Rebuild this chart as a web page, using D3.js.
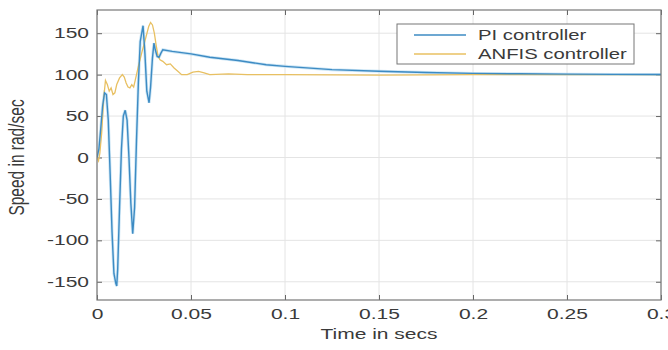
<!DOCTYPE html>
<html>
<head>
<meta charset="utf-8">
<script src="https://cdn.jsdelivr.net/npm/d3@7"></script>
<style>
  body { margin: 0; background: #fff; }
  svg text { font-family: "Liberation Sans", Arial, sans-serif; fill: #3a3a3a; }
</style>
</head>
<body>
<svg id="chart" width="668" height="350"></svg>
<script>
// values
var xTicks = [0, 0.05, 0.1, 0.15, 0.2, 0.25, 0.3]
var yTicks = [-150, -100, -50, 0, 50, 100, 150]

var piTime = [0, 0.001, 0.002, 0.003, 0.004, 0.005, 0.006, 0.007, 0.008, 0.009, 0.010, 0.0105, 0.011, 0.012, 0.013, 0.014,
	0.015, 0.016, 0.017, 0.018, 0.019, 0.020, 0.021, 0.022, 0.023, 0.0245, 0.0255, 0.0265, 0.0277, 0.0285, 0.0295, 0.0303,
	0.031, 0.032, 0.033, 0.034, 0.035, 0.04, 0.05, 0.06, 0.075, 0.09, 0.1, 0.125, 0.15, 0.175, 0.2, 0.225, 0.25, 0.275, 0.3]
var piSpeed = [0, 10, 35, 62, 78, 76, 45, -20, -90, -140, -152, -155, -135, -60, 10, 50,
	57, 45, 0, -55, -92, -60, 20, 90, 140, 159, 125, 80, 66, 85, 120, 138,
	130, 122, 121, 126, 130, 128, 125, 121, 117, 112, 110, 106, 104, 102.5, 101.5, 101, 100.6, 100.3, 100.2]

var anfisTime = [0, 0.0008, 0.0015, 0.0025, 0.0035, 0.0045, 0.0055, 0.0065, 0.0075, 0.0085, 0.0095, 0.0105, 0.012, 0.0135,
	0.0145, 0.0155, 0.0165, 0.0175, 0.0185, 0.0195, 0.0205, 0.022, 0.024, 0.026, 0.0275, 0.0285, 0.0295, 0.0305, 0.0315,
	0.0325, 0.0335, 0.035, 0.037, 0.039, 0.041, 0.043, 0.045, 0.048, 0.051, 0.054, 0.057, 0.06, 0.07, 0.08, 0.1, 0.15, 0.2, 0.25, 0.3]
var anfisSpeed = [0, -4, 5, 30, 70, 93, 88, 80, 84, 76, 78, 88, 96, 100,
	97, 90, 85, 84, 88, 85, 95, 110, 128, 145, 158, 163, 160, 150, 135,
	122, 118, 116, 112, 113, 108, 104, 100, 100, 103, 104, 102, 100, 101, 100, 100, 99.5, 100, 100, 100]

var seriesNames = ["PI controller", "ANFIS controller"]
var seriesColors = ["#3d8bc3", "#e8c062"]

var SX = 1.45 // the picture's text is stretched sideways

var svg = d3.select("#chart"),
	margin = { top: 10, right: 7, bottom: 50, left: 97 },
	width = 668 - margin.left - margin.right,
	height = 350 - margin.top - margin.bottom;

var x = d3.scaleLinear().domain([0, 0.3]).range([0, width]);
var y = d3.scaleLinear().domain([-172, 178]).range([height, 0]);

var g = svg.append("g")
	.attr("transform", "translate(" + margin.left + "," + margin.top + ")");

g.append("defs").append("clipPath").attr("id", "clip")
	.append("rect").attr("width", width).attr("height", height);

// grid
g.selectAll(".gx").data(xTicks).enter().append("line")
	.attr("x1", function (d) { return x(d) }).attr("x2", function (d) { return x(d) })
	.attr("y1", 0).attr("y2", height)
	.style("stroke", "#e4e4e4").style("stroke-width", 1);
g.selectAll(".gy").data(yTicks).enter().append("line")
	.attr("x1", 0).attr("x2", width)
	.attr("y1", function (d) { return y(d) }).attr("y2", function (d) { return y(d) })
	.style("stroke", "#e4e4e4").style("stroke-width", 1);

// axes
var xa = g.append("g").attr("class", "x axis")
	.attr("transform", "translate(0," + height + ")")
	.call(d3.axisBottom(x).tickValues(xTicks).tickFormat(function (d) { return String(d) })
		.tickSizeInner(-5).tickSizeOuter(0).tickPadding(9));
var ya = g.append("g").attr("class", "y axis")
	.call(d3.axisLeft(y).tickValues(yTicks).tickFormat(function (d) { return String(d) })
		.tickSizeInner(-5).tickSizeOuter(0).tickPadding(8));
g.append("g").call(d3.axisTop(x).tickValues(xTicks).tickFormat("").tickSizeInner(-5).tickSizeOuter(0));
g.append("g").attr("transform", "translate(" + width + ",0)")
	.call(d3.axisRight(y).tickValues(yTicks).tickFormat("").tickSizeInner(-5).tickSizeOuter(0));

g.selectAll(".domain").remove();
g.selectAll(".tick line").style("stroke", "#666");
g.selectAll(".tick text").style("font-size", "14.5px").style("fill", "#3a3a3a")
	.attr("transform", "scale(" + SX + ",1)");
ya.selectAll(".tick text").attr("x", -8 / SX);

// lines
var line = d3.line()
	.x(function (d) { return x(d[0]) })
	.y(function (d) { return y(d[1]) });

var piData = d3.zip(piTime, piSpeed);
var anfisData = d3.zip(anfisTime, anfisSpeed);

var lines = g.append("g").attr("clip-path", "url(#clip)");
lines.append("path").datum(piData)
	.attr("d", line)
	.style("fill", "none").style("stroke", "#a9d3ee").style("stroke-width", 3).style("opacity", 0.6);
lines.append("path").datum(anfisData)
	.attr("d", line)
	.style("fill", "none").style("stroke", seriesColors[1]).style("stroke-width", 1.3);
lines.append("path").datum(piData)
	.attr("d", line)
	.style("fill", "none").style("stroke", seriesColors[0]).style("stroke-width", 1.4);

// frame
g.append("rect").attr("width", width).attr("height", height)
	.style("fill", "none").style("stroke", "#777").style("stroke-width", 1.2);

// axis titles
svg.append("text")
	.text("Time in secs")
	.attr("text-anchor", "middle")
	.attr("transform", "translate(" + (margin.left + width / 2) + ",339) scale(" + SX + ",1)")
	.style("font-size", "14.5px");

svg.append("text")
	.text("Speed in rad/sec")
	.attr("text-anchor", "middle")
	.attr("transform", "translate(24," + (margin.top + y(0)) + ") rotate(-90) scale(1," + SX + ")")
	.style("font-size", "15.5px");

// legend
var legend = svg.append("g").attr("transform", "translate(397,24)");
legend.append("rect").attr("width", 237).attr("height", 40)
	.style("fill", "#fff").style("stroke", "#777").style("stroke-width", 1);
var items = legend.selectAll(".item").data(seriesNames).enter().append("g")
	.attr("transform", function (d, i) { return "translate(0," + (11 + i * 19) + ")" });
items.append("line").attr("x1", 17).attr("x2", 69)
	.style("stroke", function (d, i) { return seriesColors[i] }).style("stroke-width", 1.4);
items.append("text").text(function (d) { return d })
	.attr("dy", "0.35em")
	.attr("transform", "translate(81,0) scale(" + SX + ",1)")
	.style("font-size", "14px");
</script>
</body>
</html>
